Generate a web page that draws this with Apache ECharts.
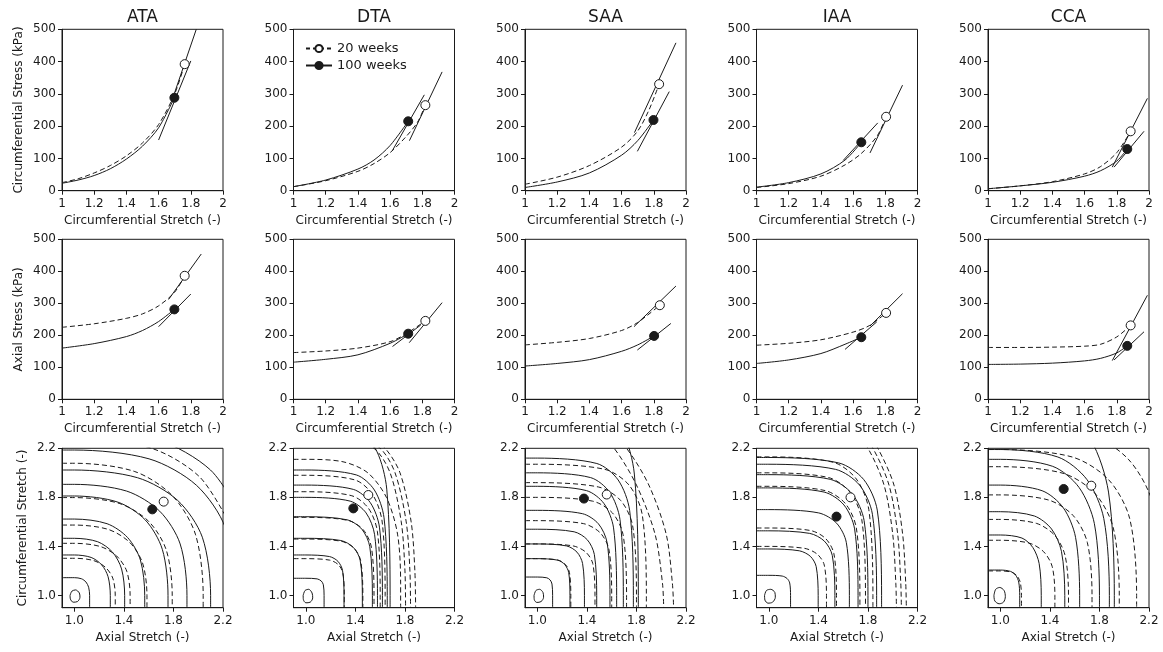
<!DOCTYPE html>
<html><head><meta charset="utf-8">
<script src="https://cdn.jsdelivr.net/npm/echarts@6/dist/echarts.min.js"></script>
<style>html,body{margin:0;padding:0;background:#fff}#c{width:1163px;height:652px}</style>
</head><body><div id="c"></div>
<script>
// ---------- categories / labels ----------
const arteries = ['ATA','DTA','SAA','IAA','CCA'];
const legendNames = ['20 weeks','100 weeks'];
const rowYNames = ['Circumferential Stress (kPa)','Axial Stress (kPa)','Circumferential Stretch (-)'];
const rowXNames = ['Circumferential Stretch (-)','Circumferential Stretch (-)','Axial Stretch (-)'];
const stretchTicks = [1.0,1.4,1.8,2.2];

// ---------- Row 1: circumferential stress vs circumferential stretch ----------
const circStress20 = [
  [[1,25],[1.1,37],[1.2,55],[1.3,78],[1.4,108],[1.5,148],[1.6,205],[1.7,300],[1.762,392]],
  [[1,12.5],[1.2,31],[1.4,60],[1.5,84],[1.6,118],[1.7,168],[1.77,212],[1.819,265]],
  [[1,20],[1.2,42],[1.4,78],[1.6,135],[1.7,185],[1.77,250],[1.833,330]],
  [[1,10],[1.2,22],[1.4,45],[1.55,80],[1.65,115],[1.75,170],[1.805,229]],
  [[1,6],[1.2,15],[1.4,28],[1.6,52],[1.7,75],[1.8,118],[1.886,184]]
];
const circStress100 = [
  [[1,23],[1.1,33],[1.2,47],[1.3,68],[1.4,98],[1.5,138],[1.6,195],[1.698,288]],
  [[1,12.5],[1.2,33],[1.4,67],[1.5,95],[1.6,140],[1.7125,215]],
  [[1,10],[1.2,27],[1.4,55],[1.6,110],[1.7,155],[1.798,219]],
  [[1,11],[1.2,25],[1.4,52],[1.55,95],[1.651,150]],
  [[1,6],[1.2,15],[1.4,26],[1.6,45],[1.7,62],[1.8,92],[1.865,129]]
];
const circTangent20 = [
  [[1.68,275],[1.834,500]],[[1.72,155],[1.923,368]],[[1.68,180],[1.9375,458]],
  [[1.705,117],[1.907,327]],[[1.772,73],[1.99,286]]
];
const circTangent100 = [
  [[1.6,157],[1.8,402]],[[1.615,125],[1.8125,297]],[[1.698,122],[1.896,307]],
  [[1.539,94],[1.753,210]],[[1.783,73],[1.969,184]]
];
const circMark20 = [[1.762,392],[1.819,265],[1.833,330],[1.805,229],[1.886,184]];
const circMark100 = [[1.698,288],[1.7125,215],[1.798,219],[1.651,150],[1.865,129]];

// ---------- Row 2: axial stress vs circumferential stretch ----------
const axStress20 = [
  [[1,225],[1.2,236],[1.4,253],[1.5,267],[1.6,292],[1.7,335],[1.762,386]],
  [[1,146],[1.2,151],[1.4,160],[1.6,180],[1.7,205],[1.819,245]],
  [[1,170],[1.2,178],[1.4,190],[1.6,215],[1.7,240],[1.8375,294]],
  [[1,169],[1.2,175],[1.4,186],[1.6,210],[1.7,230],[1.805,270]],
  [[1,162],[1.2,162],[1.4,163],[1.6,166],[1.7,172],[1.8,195],[1.886,231]]
];
const axStress100 = [
  [[1,160],[1.2,174],[1.4,196],[1.5,215],[1.6,243],[1.698,281]],
  [[1,116],[1.2,125],[1.4,139],[1.6,175],[1.7125,205]],
  [[1,104],[1.2,112],[1.4,124],[1.6,150],[1.7,170],[1.802,198]],
  [[1,112],[1.2,123],[1.4,143],[1.55,172],[1.651,194]],
  [[1,109],[1.2,110],[1.4,113],[1.6,120],[1.7,128],[1.8,145],[1.865,167]]
];
const axTangent20 = [
  [[1.662,312],[1.865,454]],[[1.719,177],[1.923,302]],[[1.677,227],[1.9375,354]],
  [[1.705,229],[1.907,330]],[[1.772,121],[1.99,325]]
];
const axTangent100 = [
  [[1.6,227],[1.8,329]],[[1.615,165],[1.79,232]],[[1.698,154],[1.906,237]],
  [[1.55,156],[1.747,242]],[[1.783,123],[1.969,211]]
];
const axMark20 = [[1.762,386],[1.819,245],[1.8375,294],[1.805,270],[1.886,231]];
const axMark100 = [[1.698,281],[1.7125,205],[1.802,198],[1.651,194],[1.865,167]];

// ---------- Row 3: energy contours (axial stretch, circumferential stretch) ----------
const ataCont100 = [
  [[0.965,1.0],[0.98,1.035],[1.01,1.045],[1.04,1.02],[1.045,0.985],[1.025,0.95],[0.99,0.945],[0.968,0.97],[0.965,1.0]],
  [[0.9,1.145],[1,1.145],[1.057,1.136],[1.093,1.11],[1.115,1.067],[1.123,1],[1.123,0.9]],
  [[0.9,1.33],[1,1.33],[1.135,1.31],[1.22,1.25],[1.272,1.153],[1.29,1],[1.29,0.9]],
  [[0.9,1.466],[1,1.466],[1.188,1.438],[1.308,1.353],[1.381,1.216],[1.406,1],[1.406,0.9]],
  [[0.9,1.623],[1,1.623],[1.264,1.585],[1.43,1.472],[1.533,1.289],[1.568,1],[1.568,0.9]],
  [[0.9,1.811],[1,1.811],[1.351,1.761],[1.573,1.615],[1.71,1.376],[1.756,1],[1.756,0.9]],
  [[0.9,1.906],[1,1.906],[1.422,1.851],[1.689,1.687],[1.854,1.42],[1.909,1],[1.909,0.9]],
  [[0.9,2.023],[1,2.023],[1.51,1.96],[1.834,1.775],[2.033,1.475],[2.1,1],[2.1,0.9]],
  [[0.9,2.186],[1,2.186],[1.603,2.114],[1.985,1.899],[2.22,1.55],[2.3,1]],
  [[1.0,2.35],[1.673,2.268],[2.099,2.023],[2.362,1.626]]
];
const ataCont20 = [
  [[0.9,1.303],[1,1.303],[1.153,1.285],[1.25,1.23],[1.31,1.141],[1.33,1],[1.33,0.9]],
  [[0.9,1.425],[1,1.425],[1.209,1.399],[1.341,1.322],[1.423,1.197],[1.45,1],[1.45,0.9]],
  [[0.9,1.574],[1,1.574],[1.272,1.539],[1.444,1.435],[1.55,1.266],[1.586,1],[1.586,0.9]],
  [[0.9,1.798],[1,1.798],[1.367,1.749],[1.599,1.605],[1.742,1.37],[1.79,1],[1.79,0.9]],
  [[0.9,2.078],[1,2.078],[1.483,2.012],[1.788,1.817],[1.977,1.5],[2.04,1],[2.04,0.9]],
  [[1.0,2.28],[1.617,2.202],[2.008,1.97],[2.249,1.594]]
];
const dtaCont100 = [
  [[0.978,1.0],[0.993,1.04],[1.023,1.05],[1.05,1.02],[1.055,0.98],[1.035,0.945],[1.0,0.94],[0.98,0.965],[0.978,1.0]],
  [[0.9,1.14],[1,1.14],[1.091,1.135],[1.124,1.118],[1.141,1.087],[1.147,1],[1.147,0.9]],
  [[0.9,1.33],[1,1.33],[1.191,1.317],[1.259,1.278],[1.296,1.204],[1.308,1],[1.308,0.9]],
  [[0.9,1.466],[1,1.466],[1.282,1.448],[1.383,1.392],[1.438,1.288],[1.456,1],[1.456,0.9]],
  [[0.9,1.642],[1,1.642],[1.332,1.617],[1.452,1.54],[1.516,1.397],[1.537,1],[1.537,0.9]],
  [[0.9,1.8],[1,1.8],[1.358,1.769],[1.486,1.673],[1.555,1.495],[1.578,1],[1.578,0.9]],
  [[0.9,1.9],[1,1.9],[1.383,1.865],[1.52,1.757],[1.594,1.557],[1.618,1],[1.618,0.9]],
  [[0.9,2.023],[1,2.023],[1.407,1.983],[1.553,1.86],[1.631,1.633],[1.657,1],[1.657,0.9]],
  [[0.9,2.4],[1,2.4],[1.421,2.345],[1.572,2.177],[1.653,1.867],[1.68,1],[1.68,0.9]]
];
const dtaCont20 = [
  [[0.9,1.3],[1,1.3],[1.192,1.288],[1.261,1.252],[1.298,1.186],[1.31,1],[1.31,0.9]],
  [[0.9,1.46],[1,1.46],[1.285,1.442],[1.387,1.387],[1.442,1.285],[1.46,1],[1.46,0.9]],
  [[0.9,1.637],[1,1.637],[1.34,1.612],[1.463,1.536],[1.529,1.394],[1.55,1],[1.55,0.9]],
  [[0.9,1.846],[1,1.846],[1.371,1.813],[1.505,1.711],[1.577,1.524],[1.6,1],[1.6,0.9]],
  [[0.9,1.98],[1,1.98],[1.396,1.942],[1.538,1.824],[1.615,1.607],[1.64,1],[1.64,0.9]],
  [[0.9,2.11],[1.0,2.11],[1.3,2.09],[1.5,2.0],[1.65,1.8],[1.74,1.5],[1.765,1.1],[1.765,0.9]],
  [[1.3,2.3],[1.55,2.2],[1.68,2.0],[1.77,1.6],[1.8,1.2],[1.805,0.9]],
  [[1.4,2.3],[1.6,2.2],[1.72,2.0],[1.81,1.6],[1.84,1.2],[1.845,0.9]],
  [[1.5,2.3],[1.64,2.2],[1.76,2.0],[1.85,1.6],[1.88,1.2],[1.886,0.9]]
];
const saaCont100 = [
  [[0.973,1.0],[0.988,1.04],[1.018,1.05],[1.045,1.025],[1.05,0.985],[1.03,0.95],[0.995,0.943],[0.975,0.965],[0.973,1.0]],
  [[0.9,1.15],[1,1.15],[1.076,1.144],[1.103,1.126],[1.118,1.093],[1.123,1],[1.123,0.9]],
  [[0.9,1.3],[1,1.3],[1.163,1.288],[1.221,1.252],[1.253,1.186],[1.263,1],[1.263,0.9]],
  [[0.9,1.42],[1,1.42],[1.235,1.404],[1.32,1.353],[1.365,1.26],[1.38,1],[1.38,0.9]],
  [[0.9,1.54],[1,1.54],[1.297,1.519],[1.403,1.454],[1.46,1.334],[1.479,1],[1.479,0.9]],
  [[0.9,1.694],[1,1.694],[1.363,1.667],[1.493,1.584],[1.563,1.43],[1.586,1],[1.586,0.9]],
  [[0.9,1.89],[1,1.89],[1.396,1.855],[1.538,1.749],[1.615,1.551],[1.64,1],[1.64,0.9]],
  [[0.9,2.0],[1,2.0],[1.43,1.961],[1.584,1.841],[1.667,1.619],[1.694,1],[1.694,0.9]],
  [[0.9,2.12],[1,2.12],[1.48,2.076],[1.652,1.942],[1.745,1.693],[1.775,1],[1.775,0.9]],
  [[0.9,2.6],[1.0,2.6],[1.504,2.538],[1.685,2.346],[1.783,1.99],[1.815,1],[1.815,0.9]]
];
const saaCont20 = [
  [[0.9,1.3],[1,1.3],[1.167,1.288],[1.227,1.252],[1.259,1.186],[1.27,1],[1.27,0.9]],
  [[0.9,1.42],[1,1.42],[1.288,1.404],[1.391,1.353],[1.447,1.26],[1.465,1],[1.465,0.9]],
  [[0.9,1.61],[1,1.61],[1.371,1.586],[1.505,1.513],[1.577,1.378],[1.6,1],[1.6,0.9]],
  [[0.9,1.8],[1,1.8],[1.446,1.769],[1.606,1.673],[1.692,1.495],[1.72,1],[1.72,0.9]],
  [[0.9,1.92],[1,1.92],[1.495,1.884],[1.673,1.774],[1.769,1.569],[1.8,1],[1.8,0.9]],
  [[0.9,2.07],[1,2.07],[1.545,2.028],[1.74,1.9],[1.846,1.662],[1.88,1],[1.88,0.9]],
  [[1.3,2.4],[1.5,2.3],[1.62,2.2],[1.8,1.9],[1.95,1.5],[2.01,1.1],[2.02,0.9]],
  [[1.4,2.4],[1.6,2.3],[1.72,2.2],[1.9,1.9],[2.04,1.5],[2.09,1.1],[2.1,0.9]]
];
const iaaCont100 = [
  [[0.965,1.0],[0.98,1.04],[1.015,1.05],[1.048,1.025],[1.052,0.985],[1.03,0.945],[0.993,0.937],[0.968,0.962],[0.965,1.0]],
  [[0.9,1.164],[1,1.164],[1.108,1.158],[1.147,1.138],[1.168,1.102],[1.175,1],[1.175,0.9]],
  [[0.9,1.379],[1,1.379],[1.246,1.364],[1.335,1.319],[1.382,1.235],[1.398,1],[1.398,0.9]],
  [[0.9,1.527],[1,1.527],[1.33,1.506],[1.448,1.443],[1.512,1.326],[1.533,1],[1.533,0.9]],
  [[0.9,1.7],[1,1.7],[1.402,1.673],[1.547,1.589],[1.625,1.433],[1.65,1],[1.65,0.9]],
  [[0.9,1.877],[1,1.877],[1.446,1.843],[1.606,1.738],[1.692,1.543],[1.72,1],[1.72,0.9]],
  [[0.9,1.985],[1,1.985],[1.495,1.947],[1.673,1.828],[1.769,1.61],[1.8,1],[1.8,0.9]],
  [[0.9,2.07],[1,2.07],[1.539,2.028],[1.732,1.9],[1.836,1.662],[1.87,1],[1.87,0.9]],
  [[0.9,2.125],[1,2.125],[1.563,2.081],[1.765,1.946],[1.875,1.696],[1.91,1],[1.91,0.9]]
];
const iaaCont20 = [
  [[0.9,1.4],[1,1.4],[1.288,1.384],[1.391,1.336],[1.447,1.248],[1.465,1],[1.465,0.9]],
  [[0.9,1.55],[1,1.55],[1.338,1.529],[1.459,1.463],[1.525,1.34],[1.546,1],[1.546,0.9]],
  [[0.9,1.89],[1,1.89],[1.455,1.855],[1.618,1.749],[1.706,1.551],[1.735,1],[1.735,0.9]],
  [[0.9,2.0],[1,2.0],[1.483,1.961],[1.656,1.841],[1.75,1.619],[1.78,1],[1.78,0.9]],
  [[0.9,2.13],[1,2.13],[1.52,2.086],[1.706,1.95],[1.807,1.699],[1.84,1],[1.84,0.9]],
  [[1.5,2.4],[1.7,2.3],[1.8,2.2],[1.93,1.9],[2.0,1.5],[2.025,1.1],[2.03,0.9]],
  [[1.55,2.4],[1.75,2.3],[1.84,2.2],[1.97,1.9],[2.04,1.5],[2.065,1.1],[2.07,0.9]],
  [[1.6,2.4],[1.8,2.3],[1.88,2.2],[2.01,1.9],[2.08,1.5],[2.105,1.1],[2.11,0.9]]
];
const ccaCont100 = [
  [[0.948,1.0],[0.962,1.05],[0.995,1.065],[1.03,1.04],[1.04,0.99],[1.025,0.945],[0.99,0.932],[0.955,0.955],[0.948,1.0]],
  [[0.9,1.207],[1,1.207],[1.082,1.196],[1.124,1.164],[1.148,1.109],[1.156,1],[1.156,0.9]],
  [[0.9,1.493],[1,1.493],[1.174,1.468],[1.262,1.391],[1.313,1.26],[1.33,1],[1.33,0.9]],
  [[0.9,1.683],[1,1.683],[1.274,1.648],[1.413,1.542],[1.493,1.36],[1.52,1],[1.52,0.9]],
  [[0.9,1.9],[1,1.9],[1.337,1.854],[1.508,1.715],[1.607,1.474],[1.64,1],[1.64,0.9]],
  [[0.9,2.11],[1,2.11],[1.422,2.053],[1.635,1.881],[1.759,1.585],[1.8,1],[1.8,0.9]],
  [[0.9,2.19],[1,2.19],[1.464,2.129],[1.699,1.945],[1.835,1.627],[1.88,1],[1.88,0.9]],
  [[1.0,2.6],[1.485,2.518],[1.73,2.27],[1.873,1.843],[1.92,1],[1.92,0.9]]
];
const ccaCont20 = [
  [[0.9,1.2],[1,1.2],[1.09,1.19],[1.135,1.159],[1.161,1.105],[1.17,1],[1.17,0.9]],
  [[0.9,1.45],[1,1.45],[1.232,1.427],[1.349,1.357],[1.418,1.237],[1.44,1],[1.44,0.9]],
  [[0.9,1.62],[1,1.62],[1.29,1.588],[1.437,1.492],[1.522,1.327],[1.55,1],[1.55,0.9]],
  [[0.9,1.82],[1,1.82],[1.39,1.778],[1.588,1.651],[1.702,1.432],[1.74,1],[1.74,0.9]],
  [[0.9,2.05],[1,2.05],[1.506,1.996],[1.762,1.834],[1.911,1.553],[1.96,1],[1.96,0.9]],
  [[0.9,2.19],[1,2.19],[1.58,2.129],[1.873,1.945],[2.044,1.627],[2.1,1],[2.1,0.9]],
  [[1.0,2.4],[1.685,2.329],[2.032,2.112],[2.234,1.738],[2.3,1]]
];
const contours100 = [ataCont100, dtaCont100, saaCont100, iaaCont100, ccaCont100];
const contours20 = [ataCont20, dtaCont20, saaCont20, iaaCont20, ccaCont20];
const stretchMark20 = [[1.721,1.765],[1.504,1.819],[1.56,1.823],[1.659,1.80],[1.734,1.895]];
const stretchMark100 = [[1.629,1.702],[1.383,1.71],[1.376,1.79],[1.546,1.643],[1.511,1.868]];

// ---------- layout / style ----------
const INK = '#1a1a1a';
const FONT = 'DejaVu Sans';
const colLeft = [62, 293.5, 525, 756.5, 988];
const rowTop = [29.3, 239.3, 448.3];
const rowH = [161.4, 160, 159.4];
const panelW = 161;
const DASH = [5, 3];

const grids = [], xAxes = [], yAxes = [], series = [];
for (let r = 0; r < 3; r++) {
  for (let c = 0; c < 5; c++) {
    const gi = r * 5 + c;
    grids.push({left: colLeft[c], top: rowTop[r], width: panelW, height: rowH[r],
      show: true, borderColor: INK, borderWidth: 1, backgroundColor: 'transparent'});
    const stretchAxis = r === 2;
    const common = {
      gridIndex: gi, type: 'value',
      axisLine: {show: true, onZero: false, lineStyle: {color: INK, width: 1}},
      splitLine: {show: false},
    };
    xAxes.push(Object.assign({}, common, stretchAxis ? {
      min: 0.9, max: 2.2,
      axisTick: {show: true, length: 4, lineStyle: {color: INK}, customValues: stretchTicks},
      axisLabel: {color: INK, fontSize: 12, fontFamily: FONT, margin: 7, customValues: stretchTicks,
        formatter: v => v.toFixed(1)}
    } : {
      min: 1, max: 2, interval: 0.2,
      axisTick: {show: true, length: 4, lineStyle: {color: INK}},
      axisLabel: {color: INK, fontSize: 12, fontFamily: FONT, margin: 7}
    }, {
      name: rowXNames[r], nameLocation: 'middle', nameGap: 24,
      nameTextStyle: {color: INK, fontSize: 12, fontFamily: FONT}
    }));
    yAxes.push(Object.assign({}, common, stretchAxis ? {
      min: 0.9, max: 2.2,
      axisTick: {show: true, length: 4, lineStyle: {color: INK}, customValues: stretchTicks},
      axisLabel: {color: INK, fontSize: 12, fontFamily: FONT, margin: 6, customValues: stretchTicks,
        formatter: v => v.toFixed(1)}
    } : {
      min: 0, max: 500, interval: 100,
      axisTick: {show: true, length: 4, lineStyle: {color: INK}},
      axisLabel: {color: INK, fontSize: 12, fontFamily: FONT, margin: 6}
    }, c === 0 ? {
      name: rowYNames[r], nameLocation: 'middle', nameRotate: 90, nameGap: stretchAxis ? 33 : 37,
      nameTextStyle: {color: INK, fontSize: 12, fontFamily: FONT}
    } : {}));
  }
}

function line(gi, data, dashed, smooth) {
  return {type: 'line', xAxisIndex: gi, yAxisIndex: gi, data: data, symbol: 'none', showSymbol: false,
    smooth: smooth ? 0.3 : false, clip: true, silent: true, animation: false, z: 2,
    lineStyle: {color: INK, width: 1, type: dashed ? DASH : 'solid'}};
}
function marker(gi, pt, open) {
  return {type: 'scatter', xAxisIndex: gi, yAxisIndex: gi, data: [pt], symbol: 'circle', symbolSize: 9,
    silent: true, animation: false, z: 5,
    itemStyle: {color: open ? '#fff' : INK, borderColor: INK, borderWidth: 1, opacity: 1}};
}

const stressRows = [
  [circStress20, circStress100, circTangent20, circTangent100, circMark20, circMark100],
  [axStress20, axStress100, axTangent20, axTangent100, axMark20, axMark100]
];
stressRows.forEach((rowData, r) => {
  for (let c = 0; c < 5; c++) {
    const gi = r * 5 + c;
    series.push(line(gi, rowData[0][c], true, true));
    series.push(line(gi, rowData[1][c], false, true));
    series.push(line(gi, rowData[2][c], false, false));
    series.push(line(gi, rowData[3][c], false, false));
    series.push(marker(gi, rowData[4][c], true));
    series.push(marker(gi, rowData[5][c], false));
  }
});
for (let c = 0; c < 5; c++) {
  const gi = 10 + c;
  contours100[c].forEach(ct => series.push(line(gi, ct, false, true)));
  contours20[c].forEach(ct => series.push(line(gi, ct, true, true)));
  series.push(marker(gi, stretchMark20[c], true));
  series.push(marker(gi, stretchMark100[c], false));
}
// legend entries (drawn on the DTA panel)
series.push({type: 'line', name: legendNames[0], xAxisIndex: 1, yAxisIndex: 1, data: [],
  symbol: 'circle', symbolSize: 8, itemStyle: {color: '#fff', borderColor: INK, borderWidth: 1},
  lineStyle: {color: INK, width: 1, type: [4, 3]}});
series.push({type: 'line', name: legendNames[1], xAxisIndex: 1, yAxisIndex: 1, data: [],
  symbol: 'circle', symbolSize: 8, itemStyle: {color: INK, borderColor: INK, borderWidth: 1},
  lineStyle: {color: INK, width: 1, type: 'solid'}});

const titles = arteries.map((t, i) => ({
  type: 'text', x: colLeft[i] + panelW / 2, y: 18,
  style: {text: t, fill: INK, font: '17px "DejaVu Sans"', textAlign: 'center', textVerticalAlign: 'middle'}
}));

const chart = echarts.init(document.getElementById('c'), null, {renderer: 'canvas'});
chart.setOption({
  animation: false,
  backgroundColor: '#fff',
  grid: grids, xAxis: xAxes, yAxis: yAxes, series: series,
  graphic: titles,
  legend: {data: legendNames, left: 300, top: 37, orient: 'vertical', itemWidth: 26, itemHeight: 9,
    itemGap: 4, selectedMode: false,
    textStyle: {color: INK, fontSize: 13, fontFamily: FONT}}
});
</script></body></html>
